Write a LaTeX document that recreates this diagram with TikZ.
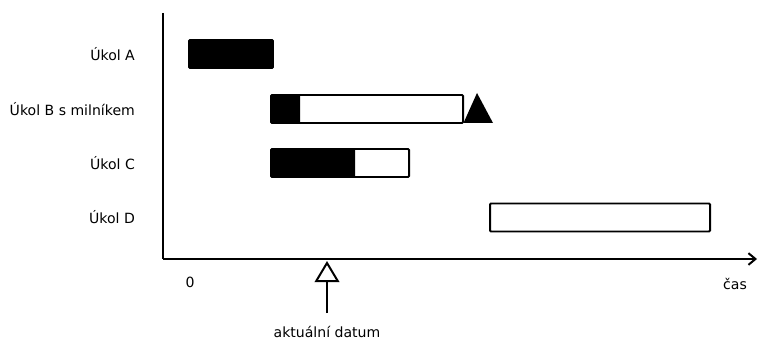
\documentclass[tikz,border=0pt]{standalone}
\usepackage{fontspec}
\setmainfont{DejaVu Sans}
\usetikzlibrary{arrows.meta, positioning}

\begin{document}
\begin{tikzpicture}[
    x=0.03cm, y=-0.03cm,
    every node/.style={font=\fontsize{12}{14}\selectfont},
    axis/.style={line width=1.7pt},
    bar/.style={draw, line width=1.7pt, rounded corners=0.8pt},
    task/.style={anchor=east},
]
\useasboundingbox (0,0) rectangle (759,343);
% axes
\coordinate (origin) at (163,259);
\draw[axis] (163,13) -- (origin);
\draw[axis, -{Straight Barb[length=6pt, width=10pt, line width=1.7pt]}] (origin) -- (757,259) coordinate (tend);
\node (zero) at (190,282) {0};
\node (time) at (735,284) {čas};
% bars: y / start / done until / end / label
\foreach \y/\s/\d/\e/\t/\n in {54/189/273/273/Úkol A/a,
                                109/271/300/463/Úkol B s milníkem/b,
                                163/271/355/409/Úkol C/c,
                                217.5/490/490/710/Úkol D/d}{
  \node[task] (label\n) at (139,\y) {\t};
  \fill[rounded corners=0.8pt] (\s,\y-14) rectangle (\d,\y+14);
  \draw[bar] (\s,\y-14) rectangle (\e,\y+14);
}
% milestone of task B
\fill (463.5,123) -- (477,93) -- (493,123) -- cycle;
% current date marker
\coordinate (now) at (327,261);
\node[anchor=north] (today) at (327,322) {aktuální datum};
\draw[line width=1.7pt, shorten <=7.5pt,
      -{Triangle[open, length=18pt, width=21pt, line width=1.7pt]}] (today) -- (now);
\end{tikzpicture}
\end{document}
